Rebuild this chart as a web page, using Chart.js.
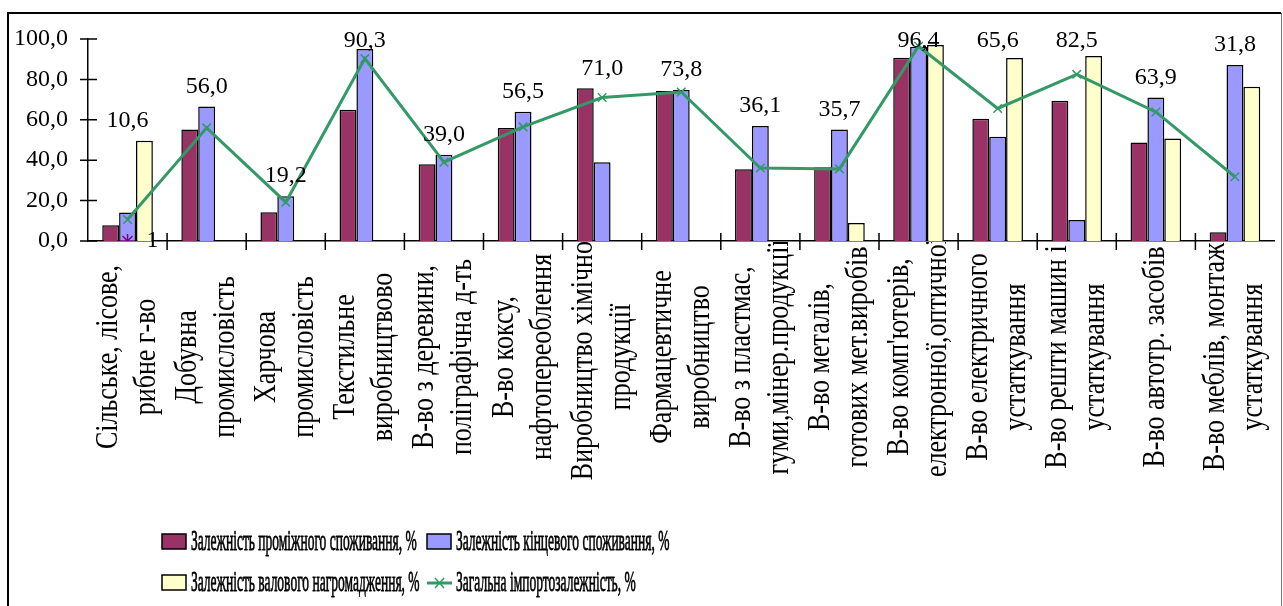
<!DOCTYPE html>
<html lang="uk">
<head>
<meta charset="utf-8">
<title>Імпортозалежність за видами діяльності</title>
<script src="https://cdn.jsdelivr.net/npm/chart.js@4.4.1/dist/chart.umd.min.js"></script>
<style>
  html, body { margin: 0; padding: 0; background: #fff; }
  canvas { display: block; }
</style>
</head>
<body>
<canvas id="chart" width="1283" height="606"></canvas>
<script>
// categories (each label already split into its two lines)
const categories = [
    ['Сільське, лісове,', 'рибне г-во'],
    ['Добувна', 'промисловість'],
    ['Харчова', 'промисловість'],
    ['Текстильне', 'виробництвово'],
    ['В-во з деревини,', 'поліграфічна д-ть'],
    ['В-во коксу,', 'нафтопереоблення'],
    ['Виробництво хімічної', 'продукції'],
    ['Фармацевтичне', 'виробництво'],
    ['В-во з пластмас,', 'гуми,мінер.продукції'],
    ['В-во металів,', 'готових мет.виробів'],
    ["В-во комп'ютерів,", 'електронної,оптичної'],
    ['В-во електричного', 'устаткування'],
    ['В-во решти машин і', 'устаткування'],
    ['В-во автотр. засобів'],
    ['В-во меблів, монтаж', 'устаткування']
];

const seriesNames = [
    'Залежність проміжного споживання, %',
    'Залежність кінцевого споживання, %',
    'Залежність валового нагромадження, %',
    'Загальна імпортозалежність, %'
];

const intermediate = [7.8, 55.2, 14.2, 65.0, 38.0, 56.0, 75.6, 74.2, 35.5, 36.5, 90.7, 60.5, 69.4, 48.8, 4.3];
const finalUse     = [14.1, 66.6, 22.2, 95.0, 42.7, 64.0, 39.0, 74.7, 56.9, 55.2, 96.2, 51.6, 10.4, 71.1, 87.1];
const accumulation = [49.6, null, null, null, null, null, null, null, null, 8.9, 97.0, 90.6, 91.6, 50.8, 76.4];
const total        = [10.6, 56.0, 19.2, 90.3, 39.0, 56.5, 71.0, 73.8, 36.1, 35.7, 96.4, 65.6, 82.5, 63.9, 31.8];

// stray single point series in the source picture
const strayPoint = [0, null, null, null, null, null, null, null, null, null, null, null, null, null, null];
const strayLabel = '1';

const yTickValues = [0, 20, 40, 60, 80, 100];

const FONT = "'Liberation Serif', 'Times New Roman', serif";
const fmt = v => v.toFixed(1).replace('.', ',');

const framePlugin = {
    id: 'frame',
    beforeDraw(chart) {
        const ctx = chart.ctx;
        ctx.save();
        ctx.fillStyle = '#fff';
        ctx.fillRect(0, 0, chart.width, chart.height);
        ctx.strokeStyle = '#000';
        ctx.lineWidth = 2;
        ctx.beginPath();
        ctx.moveTo(8, chart.height + 2);
        ctx.lineTo(8, 13);
        ctx.lineTo(1281, 13);
        ctx.stroke();
        ctx.strokeStyle = '#777';
        ctx.lineWidth = 1;
        ctx.beginPath();
        ctx.moveTo(1281.5, 13);
        ctx.lineTo(1281.5, chart.height + 2);
        ctx.stroke();
        ctx.restore();
    }
};

// tick marks crossing both axes
const crossTicksPlugin = {
    id: 'crossTicks',
    afterDraw(chart) {
        const { ctx, chartArea, scales: { x, y } } = chart;
        ctx.save();
        ctx.strokeStyle = '#000';
        ctx.lineWidth = 1.5;
        ctx.beginPath();
        yTickValues.forEach(v => {
            const py = y.getPixelForValue(v);
            ctx.moveTo(chartArea.left - 8, py);
            ctx.lineTo(chartArea.left + 9, py);
        });
        const half = (x.getPixelForValue(1) - x.getPixelForValue(0)) / 2;
        for (let i = 1; i < categories.length; i++) {
            const px = x.getPixelForValue(i) - half;
            ctx.moveTo(px, chartArea.bottom - 8);
            ctx.lineTo(px, chartArea.bottom + 9);
        }
        ctx.stroke();
        ctx.restore();
    }
};

const valueLabelsPlugin = {
    id: 'valueLabels',
    afterDatasetsDraw(chart) {
        const { ctx, chartArea, scales: { x, y } } = chart;
        ctx.save();
        ctx.font = `24px ${FONT}`;
        ctx.fillStyle = '#000';
        ctx.textAlign = 'center';
        ctx.textBaseline = 'middle';
        total.forEach((v, i) => {
            const top = Math.max(intermediate[i] || 0, finalUse[i] || 0, accumulation[i] || 0);
            const py = Math.max(y.getPixelForValue(top) - 20, chartArea.top + 2);
            ctx.fillText(fmt(v), x.getPixelForValue(i), py);
        });
        strayPoint.forEach((v, i) => {
            if (v === null) return;
            ctx.textAlign = 'left';
            ctx.fillText(strayLabel, x.getPixelForValue(i) + 19, y.getPixelForValue(v));
        });
        ctx.restore();
    }
};

// rotated two-line category labels, centred in the axis band
const categoryLabelsPlugin = {
    id: 'categoryLabels',
    afterDraw(chart) {
        const { ctx, chartArea, scales: { x } } = chart;
        const lineGap = 38;
        const stretch = 1.25;
        ctx.save();
        ctx.beginPath();
        ctx.rect(0, chartArea.bottom + 1, chart.width, chart.height);
        ctx.clip();
        ctx.font = `26px ${FONT}`;
        ctx.fillStyle = '#000';
        ctx.textAlign = 'center';
        ctx.textBaseline = 'middle';
        categories.forEach((lines, i) => {
            ctx.save();
            ctx.translate(x.getPixelForValue(i), 357);
            ctx.rotate(-Math.PI / 2);
            lines.forEach((line, j) => {
                const off = (j - (lines.length - 1) / 2) * lineGap;
                ctx.save();
                ctx.translate(0, off);
                ctx.scale(1, stretch);
                ctx.fillText(line, 0, 0);
                ctx.restore();
            });
            ctx.restore();
        });
        ctx.restore();
    }
};

const legendPlugin = {
    id: 'customLegend',
    afterDraw(chart) {
        const ctx = chart.ctx;
        const rows = [542, 583];
        const cols = [162, 427];
        ctx.save();
        ctx.font = `30px ${FONT}`;
        ctx.textBaseline = 'middle';
        ctx.textAlign = 'left';
        chart.data.datasets.slice(0, 4).forEach((ds, k) => {
            const bx = cols[k % 2];
            const by = rows[Math.floor(k / 2)];
            if (ds.type === 'line') {
                ctx.strokeStyle = ds.borderColor;
                ctx.lineWidth = ds.borderWidth;
                ctx.beginPath();
                ctx.moveTo(bx, by);
                ctx.lineTo(bx + 25, by);
                ctx.stroke();
                ctx.lineWidth = 1.5;
                ctx.beginPath();
                ctx.moveTo(bx + 8, by - 5);
                ctx.lineTo(bx + 17, by + 5);
                ctx.moveTo(bx + 17, by - 5);
                ctx.lineTo(bx + 8, by + 5);
                ctx.stroke();
            } else {
                ctx.fillStyle = ds.backgroundColor;
                ctx.fillRect(bx, by - 8, 24, 15);
                ctx.strokeStyle = '#000';
                ctx.lineWidth = 1.5;
                ctx.strokeRect(bx, by - 8, 24, 15);
            }
            ctx.fillStyle = '#000';
            ctx.strokeStyle = '#000';
            ctx.lineWidth = 0.8;
            ctx.save();
            ctx.translate(bx + 29, by);
            ctx.scale(0.45, 1);
            ctx.fillText(ds.label, 0, 0);
            ctx.strokeText(ds.label, 0, 0);
            ctx.restore();
        });
        ctx.restore();
    }
};

document.addEventListener('DOMContentLoaded', () => {
    const barStyle = { type: 'bar', borderColor: '#000', borderWidth: 1.5, order: 2,
        categoryPercentage: 0.64, barPercentage: 1.0 };

    new Chart(document.getElementById('chart'), {
        data: {
            labels: categories,
            datasets: [
                { ...barStyle, label: seriesNames[0], data: intermediate, backgroundColor: '#993366' },
                { ...barStyle, label: seriesNames[1], data: finalUse, backgroundColor: '#9999FF' },
                { ...barStyle, label: seriesNames[2], data: accumulation, backgroundColor: '#FFFFCC' },
                {
                    type: 'line', label: seriesNames[3], data: total, order: 1,
                    borderColor: '#339966', borderWidth: 3, tension: 0,
                    pointStyle: 'crossRot', pointRadius: 6, pointBorderWidth: 1.5,
                    pointBorderColor: '#339966', pointBackgroundColor: '#339966'
                },
                {
                    type: 'line', label: strayLabel, data: strayPoint, order: 0, showLine: false,
                    pointStyle: 'star', pointRadius: 7, pointBorderWidth: 1.5,
                    pointBorderColor: '#800080', pointBackgroundColor: '#800080'
                }
            ]
        },
        options: {
            responsive: false,
            animation: false,
            devicePixelRatio: 1,
            layout: { padding: { left: 8, top: 39, right: 0, bottom: 0 } },
            plugins: { legend: { display: false }, tooltip: { enabled: false } },
            scales: {
                x: {
                    grid: { display: false },
                    border: { display: true, color: '#000', width: 1.5 },
                    ticks: { display: false },
                    afterFit: s => { s.height = 365; }
                },
                y: {
                    min: 0,
                    max: 100,
                    grid: { display: false, drawTicks: false },
                    border: { display: true, color: '#000', width: 1.5 },
                    ticks: {
                        stepSize: 20,
                        padding: 20,
                        color: '#000',
                        font: { family: FONT, size: 24 },
                        callback: v => fmt(v)
                    },
                    afterFit: s => { s.width = 80; }
                }
            }
        },
        plugins: [framePlugin, crossTicksPlugin, valueLabelsPlugin, categoryLabelsPlugin, legendPlugin]
    });
});
</script>
</body>
</html>
